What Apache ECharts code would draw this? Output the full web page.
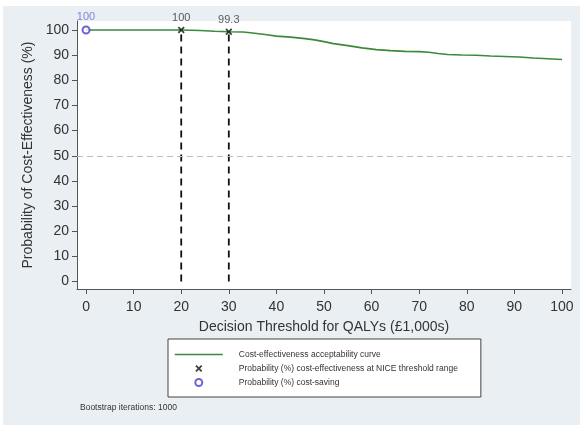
<!DOCTYPE html>
<html>
<head>
<meta charset="utf-8">
<script src="https://cdn.jsdelivr.net/npm/echarts@6/dist/echarts.min.js"></script>
<style>
html,body{margin:0;padding:0;background:#fff;}
#c{width:580px;height:431px;}
</style>
</head>
<body>
<div id="c"></div>
<script>
// ---- data ----
const thresholds = [0,5,10,15,20,24,27,30,33,35,38,40,43,46,48,50,52,55,58,61,64,67,70,72,74,76,79,82,85,88,91,94,97,100];
const probCE = [100,100,100,100,100,99.8,99.5,99.3,99.2,98.8,98.1,97.6,97.2,96.6,96.1,95.4,94.6,93.8,92.9,92.2,91.8,91.5,91.4,91.2,90.7,90.3,90.1,90.0,89.7,89.5,89.3,88.9,88.6,88.3];
const niceThresholds = [20, 30];
const niceProb = [100, 99.3];
const costSavingX = [0];
const costSavingProb = [100];
const xTicks = [0,10,20,30,40,50,60,70,80,90,100];
const yTicks = [0,10,20,30,40,50,60,70,80,90,100];
const refLevel = 50;
const names = ['Cost-effectiveness acceptability curve',
               'Probability (%) cost-effectiveness at NICE threshold range',
               'Probability (%) cost-saving'];
const noteText = 'Bootstrap iterations: 1000';

const FONT = '"Liberation Sans", Arial, sans-serif';
const xPath = 'path://M0,1.8 L1.8,0 L5,3.2 L8.2,0 L10,1.8 L6.8,5 L10,8.2 L8.2,10 L5,6.8 L1.8,10 L0,8.2 L3.2,5 Z';

const vData = [];
niceThresholds.forEach((t, i) => { vData.push([t, 0], [t, niceProb[i]], '-'); });

const chart = echarts.init(document.getElementById('c'), null, {renderer: 'canvas'});
chart.setOption({
  animation: false,
  backgroundColor: '#ffffff',
  textStyle: {fontFamily: FONT},
  graphic: {elements: [{
    type: 'rect', left: 3, top: 6, z: -10,
    shape: {width: 577, height: 419},
    style: {fill: '#e9eff2'}
  }]},
  title: {
    text: noteText, left: 80, top: 403, padding: 0,
    textStyle: {fontSize: 8.5, fontWeight: 'normal', color: '#333', fontFamily: FONT}
  },
  grid: {
    left: 77, right: 9, top: 21, bottom: 142,
    show: true, backgroundColor: '#ffffff', borderWidth: 0,
    containLabel: false, outerBoundsMode: 'none'
  },
  legend: {
    orient: 'vertical', left: 168, top: 339,
    itemWidth: 48, itemHeight: 7, itemGap: 5,
    padding: [11, 23, 10, 6],
    backgroundColor: '#ffffff', borderColor: '#444', borderWidth: 1,
    selectedMode: false,
    textStyle: {fontSize: 8.5, color: '#333', fontFamily: FONT, padding: [0, 0, 0, 11]},
    data: [
      {name: names[0], itemStyle: {opacity: 0}, lineStyle: {color: '#3a8a3a', width: 1.6}},
      {name: names[1]},
      {name: names[2], itemStyle: {color: '#ffffff', borderColor: '#4a3cc8', borderWidth: 2}}
    ]
  },
  xAxis: {
    type: 'value', min: -1.9, max: 101.9,
    name: 'Decision Threshold for QALYs (£1,000s)',
    nameLocation: 'middle', nameGap: 31,
    nameTextStyle: {fontSize: 14, color: '#333', fontFamily: FONT},
    axisLine: {show: true, onZero: false, lineStyle: {color: '#555', width: 1}},
    axisTick: {show: true, length: 5, customValues: xTicks, lineStyle: {color: '#555'}},
    axisLabel: {customValues: xTicks, fontSize: 14, color: '#333', margin: 11, fontFamily: FONT},
    splitLine: {show: false}
  },
  yAxis: {
    type: 'value', min: -3.0, max: 103.6,
    name: 'Probability of Cost-Effectiveness (%)',
    nameLocation: 'middle', nameGap: 38,
    nameTextStyle: {fontSize: 14, color: '#333', fontFamily: FONT},
    axisLine: {show: true, onZero: false, lineStyle: {color: '#555', width: 1}},
    axisTick: {show: true, length: 5, customValues: yTicks, lineStyle: {color: '#555'}},
    axisLabel: {customValues: yTicks, fontSize: 14, color: '#333', margin: 8, fontFamily: FONT},
    splitLine: {show: false}
  },
  series: [
    {
      name: 'ref50', type: 'line', data: [], symbol: 'none', silent: true,
      markLine: {
        silent: true, symbol: 'none', label: {show: false},
        lineStyle: {color: '#bdbdbd', type: [6, 4], width: 1},
        data: [{yAxis: refLevel}]
      }
    },
    {
      name: names[0], type: 'line', symbol: 'none', z: 3,
      data: thresholds.map((t, i) => [t, probCE[i]]),
      lineStyle: {color: '#3a8a3a', width: 1.6},
      itemStyle: {color: '#3a8a3a'}
    },
    {
      name: 'niceLines', type: 'line', symbol: 'none', z: 4,
      data: vData, connectNulls: false,
      lineStyle: {color: '#111', width: 1.8, type: [7, 5]}
    },
    {
      name: names[1], type: 'scatter', symbol: xPath, symbolSize: 7, z: 5,
      data: niceThresholds.map((t, i) => [t, niceProb[i]]),
      itemStyle: {color: '#111'},
      label: {show: true, position: 'top', distance: 3, fontSize: 11, color: '#333',
              formatter: p => String(p.value[1])}
    },
    {
      name: names[2], type: 'scatter', symbol: 'circle', symbolSize: 7, z: 5,
      data: costSavingX.map((t, i) => [t, costSavingProb[i]]),
      itemStyle: {color: '#ffffff', borderColor: '#4a3cc8', borderWidth: 2},
      label: {show: true, position: 'top', distance: 3, fontSize: 11, color: '#6a66d8',
              formatter: p => String(p.value[1])}
    }
  ]
});
</script>
</body>
</html>
